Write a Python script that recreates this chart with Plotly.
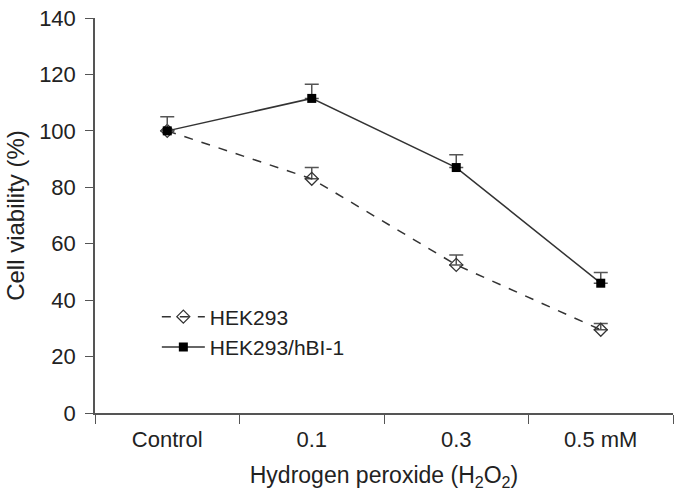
import plotly.graph_objects as go

categories = ["Control", "0.1", "0.3", "0.5 mM"]
hek293 = [100, 83, 52.5, 29.5]
hek293_err = [0, 4, 3.5, 2.2]
hbi1 = [100, 111.5, 87, 46]
hbi1_err = [5, 5, 4.5, 3.8]
yticks = [0, 20, 40, 60, 80, 100, 120, 140]

font = "Liberation Sans, Arial, sans-serif"
fig = go.Figure()
fig.add_trace(go.Scatter(
    x=categories, y=hek293, name="HEK293", mode="lines+markers",
    line=dict(color="#333333", width=1.5, dash="dash"),
    marker=dict(symbol="diamond-open", size=10, color="#333333", line=dict(width=1.3)),
    error_y=dict(type="data", array=hek293_err, arrayminus=[0]*4, symmetric=False,
                 color="#555555", thickness=1.5, width=7),
))
fig.add_trace(go.Scatter(
    x=categories, y=hbi1, name="HEK293/hBI-1", mode="lines+markers",
    line=dict(color="#333333", width=1.5),
    marker=dict(symbol="square", size=9, color="#000000"),
    error_y=dict(type="data", array=hbi1_err, arrayminus=[0]*4, symmetric=False,
                 color="#555555", thickness=1.5, width=7),
))
fig.update_layout(
    width=679, height=494,
    margin=dict(l=95, r=6, t=16, b=81),
    paper_bgcolor="white", plot_bgcolor="white",
    font=dict(family=font, size=22, color="#222222"),
    showlegend=True,
    legend=dict(x=0.107, y=0.295, xanchor="left", yanchor="top",
                bgcolor="rgba(0,0,0,0)", font=dict(size=21), itemwidth=43,
                tracegroupgap=0),
    xaxis=dict(
        type="category", range=[-0.5, 3.5],
        tickson="boundaries", ticks="outside", ticklen=9, tickcolor="#555555",
        ticklabelstandoff=6,
        showline=True, linecolor="#555555", linewidth=1.5, showgrid=False, zeroline=False,
        title=dict(text="Hydrogen peroxide (H<sub>2</sub>O<sub>2</sub>)", standoff=16,
                   font=dict(size=23)),
    ),
    yaxis=dict(
        range=[0, 140], tickmode="array", tickvals=yticks,
        ticks="outside", ticklen=8, tickcolor="#555555",
        ticklabelstandoff=5,
        showline=True, linecolor="#555555", linewidth=1.5, showgrid=False, zeroline=False,
        title=dict(text="Cell viability (%)", standoff=8, font=dict(size=24)),
    ),
)
fig.write_html("out.html")
